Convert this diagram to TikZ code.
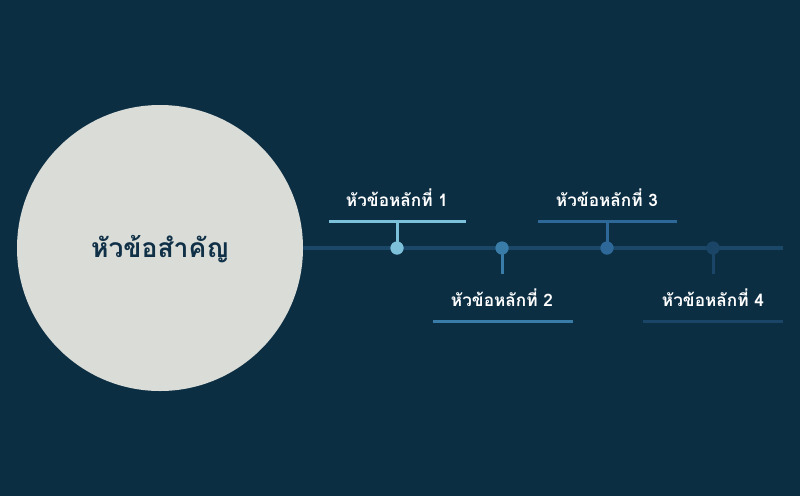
\documentclass[tikz,border=0pt]{standalone}
\usepackage{fontspec}
\newfontfamily\thaifont[Script=Thai]{Loma}
\definecolor{bg}{HTML}{0C2E43}
\definecolor{axis}{HTML}{1B4868}
\definecolor{cone}{HTML}{7CC0DA}
\definecolor{ctwo}{HTML}{3A7CA8}
\definecolor{cthree}{HTML}{2D6898}
\definecolor{cfour}{HTML}{1B4566}
\definecolor{disc}{HTML}{D9DCD7}
\definecolor{dtext}{HTML}{0F3046}
\tikzset{
  dot/.style={circle,fill=#1,inner sep=0pt,minimum size=13pt},
  stem/.style={draw=#1,line width=3pt},
  bar/.style={draw=#1,line width=3pt},
  lbl/.style={text=white,font=\thaifont\bfseries\fontsize{17.2}{19}\selectfont,inner sep=0pt}
}
\begin{document}
\begin{tikzpicture}[x=1pt,y=-1pt]
\useasboundingbox[fill=bg] (0,0) rectangle (800,496);
\node[circle,fill=disc,minimum size=286pt,inner sep=0pt] (centre) at (160,248) {};
\node[text=dtext,font=\thaifont\bfseries\fontsize{26.5}{29}\selectfont] (ctext) at (160,249) {หัวข้อสำคัญ};
\coordinate (axend) at (783,248);
\draw[axis,line width=4pt] (centre.east) -- (axend);
% dots
\node[dot=cone] (d1) at (397,248) {};
\node[dot=ctwo] (d2) at (502,248) {};
\node[dot=cthree] (d3) at (607,248) {};
\node[dot=cfour] (d4) at (713,248) {};
% bars
\coordinate (b1l) at (329,221); \coordinate (b1r) at (466,221); \coordinate (b1m) at (397,221);
\coordinate (b2l) at (433,321); \coordinate (b2r) at (573,321); \coordinate (s2e) at (502,274);
\coordinate (b3l) at (538,221); \coordinate (b3r) at (677,221); \coordinate (b3m) at (607,221);
\coordinate (b4l) at (643,321); \coordinate (b4r) at (783,321); \coordinate (s4e) at (713,274);
\draw[bar=cone] (b1l) -- (b1r);
\draw[stem=cone] (d1.center) -- (b1m);
\draw[bar=ctwo] (b2l) -- (b2r);
\draw[stem=ctwo] (d2.center) -- (s2e);
\draw[bar=cthree] (b3l) -- (b3r);
\draw[stem=cthree] (d3.center) -- (b3m);
\draw[bar=cfour] (b4l) -- (b4r);
\draw[stem=cfour] (d4.center) -- (s4e);
\node[dot=cone] at (d1) {};
\node[dot=ctwo] at (d2) {};
\node[dot=cthree] at (d3) {};
\node[dot=cfour] at (d4) {};
% labels
\node[lbl] (l1) at (397,197.5) {หัวข้อหลักที่ 1};
\node[lbl] (l2) at (502,297.5) {หัวข้อหลักที่ 2};
\node[lbl] (l3) at (607,197.5) {หัวข้อหลักที่ 3};
\node[lbl] (l4) at (713,297.5) {หัวข้อหลักที่ 4};
\end{tikzpicture}
\end{document}
